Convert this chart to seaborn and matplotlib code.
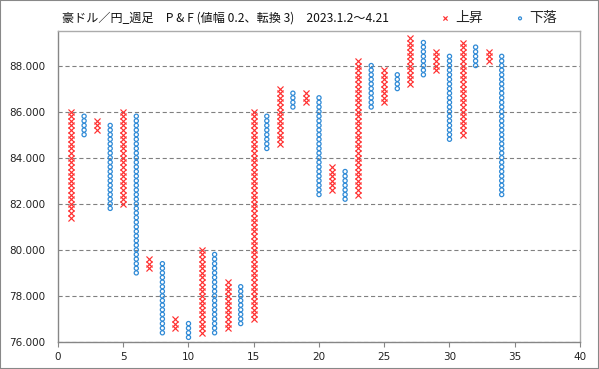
import numpy as np
import pandas as pd
import matplotlib
matplotlib.use("Agg")
import matplotlib.pyplot as plt
import seaborn as sns
from matplotlib.patches import Rectangle

# P&F columns (box size 0.2, reversal 3)
box_size = 0.2
col_type = ["X", "O"] * 17
col_low = [81.4, 85.0, 85.2, 81.8, 82.0, 79.0, 79.2, 76.4, 76.6, 76.2,
           76.4, 76.4, 76.6, 76.8, 77.0, 84.4, 84.6, 86.2, 86.4, 82.4,
           82.6, 82.2, 82.4, 86.2, 86.4, 87.0, 87.2, 87.6, 87.8, 84.8,
           85.0, 88.0, 88.2, 82.4]
col_high = [86.0, 85.8, 85.6, 85.4, 86.0, 85.8, 79.6, 79.4, 77.0, 76.8,
            80.0, 79.8, 78.6, 78.4, 86.0, 85.8, 87.0, 86.8, 86.8, 86.6,
            83.6, 83.4, 88.2, 88.0, 87.8, 87.6, 89.2, 89.0, 88.6, 88.4,
            89.0, 88.8, 88.6, 88.4]

yticks = [76, 78, 80, 82, 84, 86, 88]
xticks = [0, 5, 10, 15, 20, 25, 30, 35, 40]
title = "豪ドル／円_週足　P & F (値幅 0.2、転換 3)　2023.1.2～4.21"

red = "#FF3030"
blue = "#2F8AD6"

# expand each column into its boxes
rows = []
for i, (t, lo, hi) in enumerate(zip(col_type, col_low, col_high)):
    n = int(round((hi - lo) / box_size)) + 1
    for k in range(n):
        rows.append({"col": i + 1, "price": round(lo + k * box_size, 1), "type": t})
df = pd.DataFrame(rows)

sns.set_style("white")
plt.rcParams["font.family"] = ["Noto Sans CJK JP", "DejaVu Sans"]
plt.rcParams["lines.scale_dashes"] = False

fig = plt.figure(figsize=(5.99, 3.69), dpi=100)
ax = fig.add_axes([58 / 599, 1 - 342 / 369, (580 - 58) / 599, (342 - 31) / 369])

up = df[df["type"] == "X"]
down = df[df["type"] == "O"]
sns.scatterplot(data=up, x="col", y="price", marker="x", s=19, color=red,
                linewidth=0.85, ax=ax, label="上昇", zorder=3)
sns.scatterplot(data=down, x="col", y="price", marker="o", s=9, color=blue,
                facecolor="none", edgecolor=blue, linewidth=0.9, ax=ax,
                label="下落", zorder=3)

ax.set_xlim(0, 40)
ax.set_ylim(76, 89.5)
ax.set_xticks(xticks)
ax.set_yticks(yticks)
ax.set_yticklabels([f"{v:.3f}" for v in yticks])
ax.set_xlabel("")
ax.set_ylabel("")
ax.yaxis.grid(True, color="#808080", linestyle=(0, (3, 2)), linewidth=0.8)
ax.xaxis.grid(False)
ax.set_axisbelow(True)

for s in ["left", "bottom"]:
    ax.spines[s].set_color("#868686")
    ax.spines[s].set_linewidth(1.0)
for s in ["top", "right"]:
    ax.spines[s].set_color("#ABABAB")
    ax.spines[s].set_linewidth(1.0)

ax.tick_params(axis="y", length=0, pad=9, labelsize=7.5, colors="#222222")
ax.tick_params(axis="x", length=3.5, width=0.8, color="#868686", pad=4,
               labelsize=7.5, labelcolor="#222222", bottom=True)
for lab in ax.get_xticklabels() + ax.get_yticklabels():
    lab.set_fontfamily("DejaVu Sans")

handles, labels = ax.get_legend_handles_labels()
ax.get_legend().remove()
fig.legend(handles, labels, loc="center right",
           bbox_to_anchor=(570 / 599, 1 - 18 / 369), ncol=2, frameon=False,
           handletextpad=0.2, columnspacing=2.2, handlelength=1.0,
           markerscale=0.7, fontsize=10)

fig.text(62 / 599, 1 - 18 / 369, title, ha="left", va="center", fontsize=8.7,
         color="#111111")

fig.patches.append(Rectangle((0, 0), 1, 1, transform=fig.transFigure,
                             fill=False, edgecolor="#888888", linewidth=1.5))

fig.savefig("out.png", dpi=100)
